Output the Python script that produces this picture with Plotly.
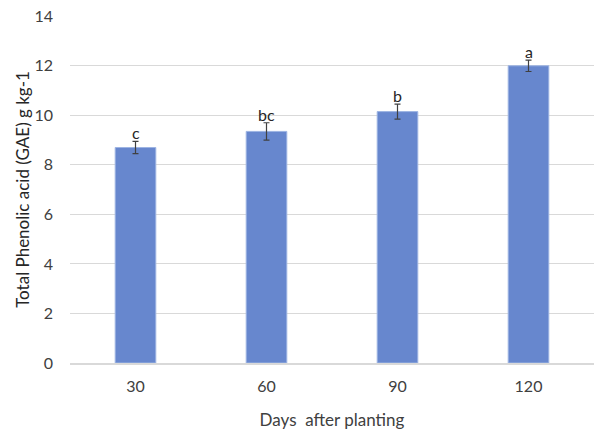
import plotly.graph_objects as go

categories = ["30", "60", "90", "120"]
values = [8.7, 9.35, 10.15, 12.0]
errors = [0.25, 0.35, 0.3, 0.23]
letters = ["c", "bc", "b", "a"]
y_ticks = [0, 2, 4, 6, 8, 10, 12, 14]

FONT = "Lato, Calibri, Carlito, sans-serif"

fig = go.Figure()
fig.add_trace(go.Bar(
    x=categories, y=values,
    marker=dict(color="#6787CE", line=dict(color="#9DB4E3", width=1)),
    error_y=dict(type="data", array=errors, visible=True, color="#404040", thickness=1.2, width=3),
    width=0.31,
))

for i, (v, e, t) in enumerate(zip(values, errors, letters)):
    fig.add_annotation(x=i, y=v + e, text=t, showarrow=False, yanchor="bottom", yshift=-3,
                       font=dict(family=FONT, size=16, color="#262626"))

fig.update_layout(
    width=599, height=432,
    margin=dict(l=70, r=5, t=16, b=69),
    plot_bgcolor="white", paper_bgcolor="white",
    showlegend=False,
    font=dict(family=FONT, size=16, color="#404040"),
    xaxis=dict(
        type="category", range=[-0.5, len(categories) - 0.5],
        showline=True, linecolor="#d9d9d9", linewidth=1.5,
        ticks="", tickfont=dict(size=16, color="#404040", family=FONT),
        ticklabelstandoff=8,
        title=dict(text="Days  after planting", font=dict(size=17, color="#404040", family=FONT), standoff=20),
    ),
    yaxis=dict(
        range=[0, 14.01], tickvals=y_ticks,
        automargin="left+right",
        showgrid=True, gridcolor="#d9d9d9", gridwidth=1,
        zeroline=False, showline=False, ticks="",
        tickfont=dict(size=16, color="#404040", family=FONT),
        ticklabelstandoff=16,
        title=dict(text="Total Phenolic acid (GAE) g kg-1", font=dict(size=17, color="#262626", family=FONT), standoff=0),
    ),
)

fig.write_html(
    "out.html",
    config={"displayModeBar": False},
    post_script="document.body.style.margin='0';document.body.style.overflow='hidden';",
)
